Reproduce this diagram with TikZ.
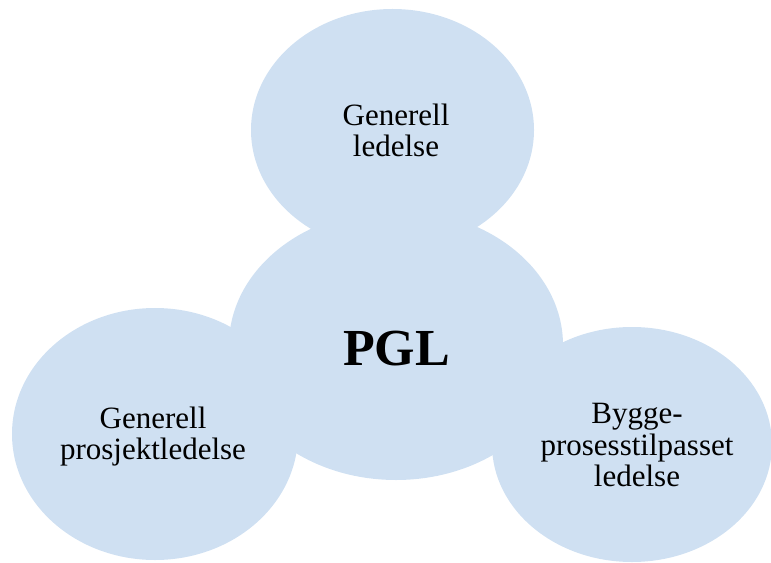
\documentclass[tikz,border=0pt]{standalone}
\usepackage{fontspec}
\setmainfont{Liberation Serif}
\usetikzlibrary{shapes.geometric}
\definecolor{bubble}{RGB}{207,224,242}
\begin{document}
\begin{tikzpicture}[x=1bp,y=-1bp,
  blob/.style={ellipse,fill=bubble,draw=none,inner sep=0pt},
  label/.style={align=center,inner sep=0pt,text depth=0pt,anchor=south,
    font=\fontsize{31bp}{31.5bp}\selectfont},
  hub/.style={inner sep=0pt,anchor=base,font=\fontsize{52bp}{56bp}\selectfont\bfseries}]
  \useasboundingbox (0,0) rectangle (771,563);
  % four overlapping areas
  \node[blob,minimum width=283bp,minimum height=242bp] (top) at (392.5,130) {};
  \node[blob,minimum width=334bp,minimum height=270bp] (mid) at (396,345) {};
  \node[blob,minimum width=286bp,minimum height=252bp] (left) at (155,434) {};
  \node[blob,minimum width=280bp,minimum height=235bp] (right) at (632,444.5) {};
  % labels
  \node[label] (ttop) at (396,157) {Generell\\ledelse};
  \node[hub] (tmid) at (396.5,365) {PGL};
  \node[label] (tleft) at (153,460) {Generell\\prosjektledelse};
  \node[label] (tright) at (637,487) {Bygge-\\prosesstilpasset\\ledelse};
\end{tikzpicture}
\end{document}
